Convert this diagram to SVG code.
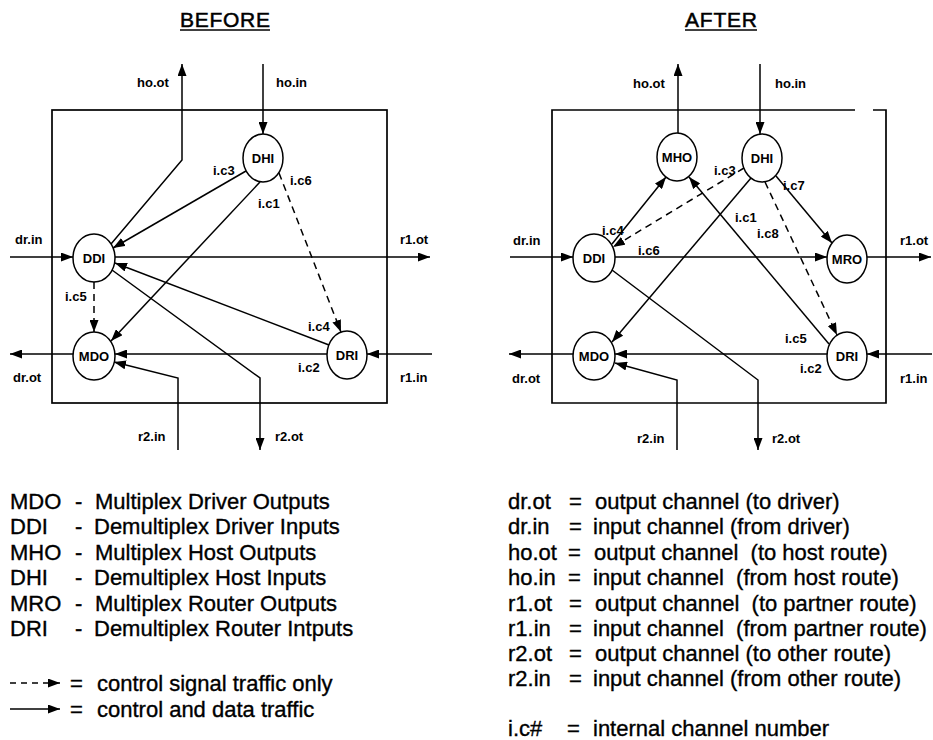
<svg xmlns="http://www.w3.org/2000/svg" width="933" height="740" viewBox="0 0 933 740">
<style>
text{font-family:"Liberation Sans",Arial,Helvetica,sans-serif;fill:#000}
.t{font-size:21px;stroke:#000;stroke-width:0.5}
.n{font-size:13px;font-weight:bold;text-anchor:middle}
.l{font-size:13px;font-weight:bold}
.g{font-size:22px;stroke:#000;stroke-width:0.35}
.box{fill:none;stroke:#000;stroke-width:1.7}
.nd{fill:#fff;stroke:#000;stroke-width:1.5}
.e{fill:none;stroke:#000;stroke-width:1.5;marker-end:url(#ah)}
.d{stroke-dasharray:7,5}
.u{stroke:#000;stroke-width:1.6}
</style>
<defs>
<marker id="ah" viewBox="0 0 12 9" refX="12" refY="4.5" markerWidth="12" markerHeight="9" orient="auto" markerUnits="userSpaceOnUse"><path d="M0,0 L12,4.5 L0,9 z" fill="#000"/></marker>
</defs>

<!-- titles -->
<g id="title-before"><text class="t" x="180" y="27" textLength="90">BEFORE</text><line class="u" x1="180" y1="30" x2="270" y2="30"/></g>
<g id="title-after"><text class="t" x="685" y="27" textLength="72">AFTER</text><line class="u" x1="685" y1="30" x2="757" y2="30"/></g>

<!-- BEFORE -->
<g id="before-box"><rect class="box" x="52" y="110" width="335" height="293"/></g>
<g id="before-connectors">
<line class="e" x1="263" y1="64" x2="263" y2="134"/>
<polyline class="e" points="111,244 182,160 182,64"/>
<line class="e" x1="246" y1="171" x2="113" y2="248"/>
<line class="e" x1="260" y1="182" x2="111" y2="341"/>
<line class="e d" x1="279" y1="173" x2="341" y2="332"/>
<line class="e" x1="10" y1="257" x2="73" y2="257"/>
<line class="e" x1="115" y1="257" x2="430" y2="257"/>
<line class="e" x1="73" y1="354" x2="10" y2="354"/>
<line class="e" x1="432" y1="354" x2="367" y2="354"/>
<line class="e" x1="327" y1="354" x2="115" y2="354"/>
<line class="e" x1="329" y1="345" x2="115" y2="263"/>
<polyline class="e" points="112,270 260,378 260,450"/>
<polyline class="e" points="178,450 178,378 114,362"/>
<line class="e d" x1="94" y1="282" x2="94" y2="332"/>
</g>
<g id="b-DHI"><ellipse class="nd" cx="263" cy="158" rx="20" ry="24"/><text class="n" x="263" y="163">DHI</text></g>
<g id="b-DDI"><ellipse class="nd" cx="94" cy="258" rx="21" ry="24"/><text class="n" x="94" y="263">DDI</text></g>
<g id="b-MDO"><ellipse class="nd" cx="94" cy="356" rx="21" ry="24"/><text class="n" x="94" y="361">MDO</text></g>
<g id="b-DRI"><ellipse class="nd" cx="347" cy="355" rx="20" ry="24"/><text class="n" x="347" y="360">DRI</text></g>
<g id="before-labels">
<text class="l" x="137" y="87">ho.ot</text>
<text class="l" x="276" y="87">ho.in</text>
<text class="l" x="213" y="175">i.c3</text>
<text class="l" x="290" y="185">i.c6</text>
<text class="l" x="258" y="208">i.c1</text>
<text class="l" x="15" y="244">dr.in</text>
<text class="l" x="400" y="244">r1.ot</text>
<text class="l" x="65" y="301">i.c5</text>
<text class="l" x="308" y="331">i.c4</text>
<text class="l" x="298" y="372">i.c2</text>
<text class="l" x="13" y="382">dr.ot</text>
<text class="l" x="400" y="382">r1.in</text>
<text class="l" x="138" y="441">r2.in</text>
<text class="l" x="275" y="441">r2.ot</text>
</g>

<!-- AFTER -->
<g id="after-box"><path class="box" d="M855,110 H552 V403 H886 V110 H873"/></g>
<g id="after-connectors">
<line class="e" x1="678" y1="133" x2="678" y2="64"/>
<line class="e" x1="760" y1="64" x2="760" y2="134"/>
<line class="e" x1="510" y1="257" x2="573" y2="257"/>
<line class="e" x1="615" y1="257" x2="827" y2="257"/>
<line class="e" x1="867" y1="257" x2="931" y2="257"/>
<line class="e" x1="573" y1="354" x2="509" y2="354"/>
<line class="e" x1="932" y1="354" x2="867" y2="354"/>
<line class="e" x1="827" y1="354" x2="615" y2="354"/>
<line class="e" x1="612" y1="244" x2="666" y2="177"/>
<line class="e" x1="829" y1="344" x2="689" y2="177"/>
<line class="e d" x1="744" y1="168" x2="613" y2="247"/>
<line class="e" x1="751" y1="178" x2="612" y2="342"/>
<line class="e" x1="776" y1="176" x2="832" y2="243"/>
<line class="e d" x1="765" y1="182" x2="837" y2="335"/>
<polyline class="e" points="612,270 758,380 758,450"/>
<polyline class="e" points="677,450 677,380 615,363"/>
</g>
<g id="a-MHO"><ellipse class="nd" cx="677" cy="157" rx="20" ry="24"/><text class="n" x="677" y="162">MHO</text></g>
<g id="a-DHI"><ellipse class="nd" cx="762" cy="158" rx="20" ry="24"/><text class="n" x="762" y="163">DHI</text></g>
<g id="a-DDI"><ellipse class="nd" cx="594" cy="258" rx="21" ry="24"/><text class="n" x="594" y="263">DDI</text></g>
<g id="a-MRO"><ellipse class="nd" cx="847" cy="259" rx="20" ry="24"/><text class="n" x="847" y="264">MRO</text></g>
<g id="a-MDO"><ellipse class="nd" cx="594" cy="356" rx="21" ry="24"/><text class="n" x="594" y="361">MDO</text></g>
<g id="a-DRI"><ellipse class="nd" cx="847" cy="356" rx="20" ry="24"/><text class="n" x="847" y="361">DRI</text></g>
<g id="after-labels">
<text class="l" x="633" y="88">ho.ot</text>
<text class="l" x="775" y="88">ho.in</text>
<text class="l" x="714" y="175">i.c3</text>
<text class="l" x="783" y="190">i.c7</text>
<text class="l" x="735" y="222">i.c1</text>
<text class="l" x="602" y="235">i.c4</text>
<text class="l" x="757" y="238">i.c8</text>
<text class="l" x="513" y="245">dr.in</text>
<text class="l" x="638" y="255">i.c6</text>
<text class="l" x="900" y="245">r1.ot</text>
<text class="l" x="785" y="343">i.c5</text>
<text class="l" x="800" y="373">i.c2</text>
<text class="l" x="512" y="383">dr.ot</text>
<text class="l" x="900" y="383">r1.in</text>
<text class="l" x="637" y="443">r2.in</text>
<text class="l" x="772" y="443">r2.ot</text>
</g>

<!-- legend left -->
<g id="legend-nodes">
<text class="g" x="10" y="509">MDO</text><text class="g" x="75" y="509">-</text><text class="g" x="95" y="509">Multiplex Driver Outputs</text>
<text class="g" x="10" y="534">DDI</text><text class="g" x="75" y="534">-</text><text class="g" x="94" y="534">Demultiplex Driver Inputs</text>
<text class="g" x="10" y="560">MHO</text><text class="g" x="75" y="560">-</text><text class="g" x="95" y="560">Multiplex Host Outputs</text>
<text class="g" x="10" y="585">DHI</text><text class="g" x="75" y="585">-</text><text class="g" x="94" y="585">Demultiplex Host Inputs</text>
<text class="g" x="10" y="611">MRO</text><text class="g" x="75" y="611">-</text><text class="g" x="95" y="611">Multiplex Router Outputs</text>
<text class="g" x="10" y="636">DRI</text><text class="g" x="75" y="636">-</text><text class="g" x="94" y="636">Demultiplex Router Intputs</text>
</g>
<g id="legend-lines">
<line class="e d" x1="10" y1="683" x2="60" y2="683" style="stroke-dasharray:6,5"/>
<text class="g" x="70" y="691">=</text><text class="g" x="97" y="691">control signal traffic only</text>
<line class="e" x1="10" y1="709" x2="60" y2="709"/>
<text class="g" x="70" y="717">=</text><text class="g" x="97" y="717">control and data traffic</text>
</g>

<!-- legend right -->
<g id="legend-channels">
<text class="g" x="508" y="509">dr.ot</text><text class="g" x="569" y="509">=</text><text class="g" x="595" y="509">output channel (to driver)</text>
<text class="g" x="508" y="534">dr.in</text><text class="g" x="569" y="534">=</text><text class="g" x="593" y="534">input channel (from driver)</text>
<text class="g" x="508" y="560">ho.ot</text><text class="g" x="568" y="560">=</text><text class="g" x="594" y="560" xml:space="preserve">output channel  (to host route)</text>
<text class="g" x="508" y="585">ho.in</text><text class="g" x="568" y="585">=</text><text class="g" x="593" y="585" xml:space="preserve">input channel  (from host route)</text>
<text class="g" x="508" y="611">r1.ot</text><text class="g" x="569" y="611">=</text><text class="g" x="595" y="611" xml:space="preserve">output channel  (to partner route)</text>
<text class="g" x="508" y="636">r1.in</text><text class="g" x="569" y="636">=</text><text class="g" x="593" y="636" xml:space="preserve">input channel  (from partner route)</text>
<text class="g" x="508" y="661">r2.ot</text><text class="g" x="569" y="661">=</text><text class="g" x="595" y="661">output channel (to other route)</text>
<text class="g" x="508" y="686">r2.in</text><text class="g" x="569" y="686">=</text><text class="g" x="593" y="686">input channel (from other route)</text>
<text class="g" x="508" y="736">i.c#</text><text class="g" x="567" y="736">=</text><text class="g" x="593" y="736">internal channel number</text>
</g>
</svg>
